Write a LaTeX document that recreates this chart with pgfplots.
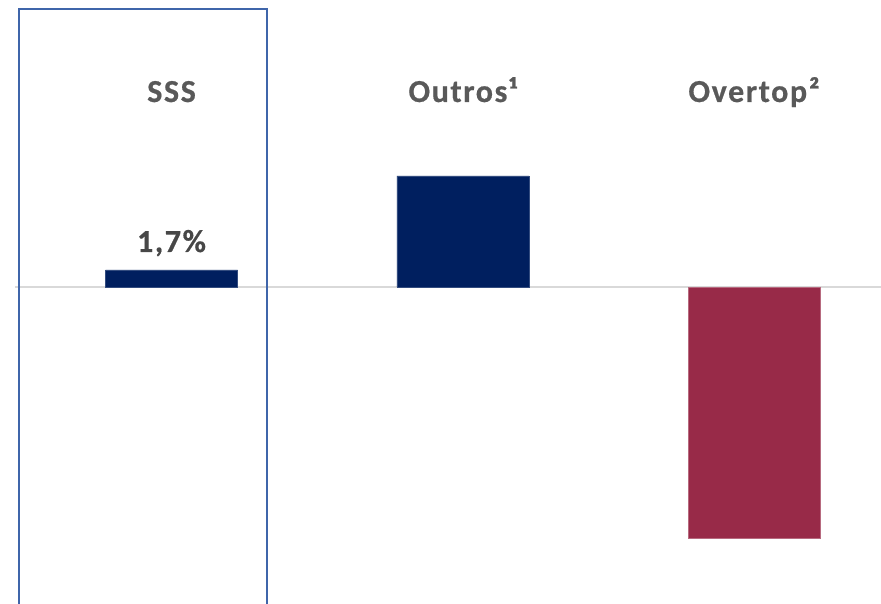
\documentclass[border=0pt]{standalone}
\usepackage{pgfplots}
\pgfplotsset{compat=1.18}
\usepackage{fontspec}
\setmainfont{Carlito}
\definecolor{navy}{HTML}{001F5F}
\definecolor{maroon}{HTML}{982A48}
\definecolor{boxblue}{HTML}{3F65AA}
\definecolor{zerogray}{HTML}{D9D9D9}
\definecolor{txtgray}{HTML}{595959}
\newcommand{\lbl}{\fontsize{32}{36}\selectfont\bfseries\addfontfeature{LetterSpace=5,FakeBold=0.6}}
\begin{document}
\begin{tikzpicture}
\begin{axis}[
  scale only axis,
  width=881pt, height=604pt,
  xmin=-0.589, xmax=2.436,
  ymin=-31.7, ymax=28.7,
  axis lines=none,
  xtick=\empty, ytick=\empty,
]
\addplot[zerogray, line width=2pt, forget plot] coordinates {(-0.537,0) (2.436,0)};
\addplot[ybar, bar width=132pt, fill=navy, draw=navy!80!white, line width=0.5pt] coordinates {(0,1.7) (1,11.1)};
\addplot[ybar, bar width=132pt, fill=maroon, draw=maroon!70!white, line width=0.5pt] coordinates {(2,-25.1)};
\draw[boxblue, line width=2.4pt] (axis cs:-0.5236,-31.7) -- (axis cs:-0.5236,27.8) -- (axis cs:0.3279,27.8) -- (axis cs:0.3279,-31.7);
\node[txtgray, font=\lbl, anchor=base] at (axis cs:0,18.5) {SSS};
\node[txtgray, font=\lbl, anchor=base] at (axis cs:1,18.5) {Outros¹};
\node[txtgray, font=\lbl, anchor=base] at (axis cs:2,18.5) {Overtop²};
\node[black!72, font=\lbl, anchor=base] at (axis cs:0,3.5) {1,7\%};
\end{axis}
\pgfresetboundingbox
\useasboundingbox (current axis.south west) rectangle (current axis.north east);
\end{tikzpicture}
\end{document}
